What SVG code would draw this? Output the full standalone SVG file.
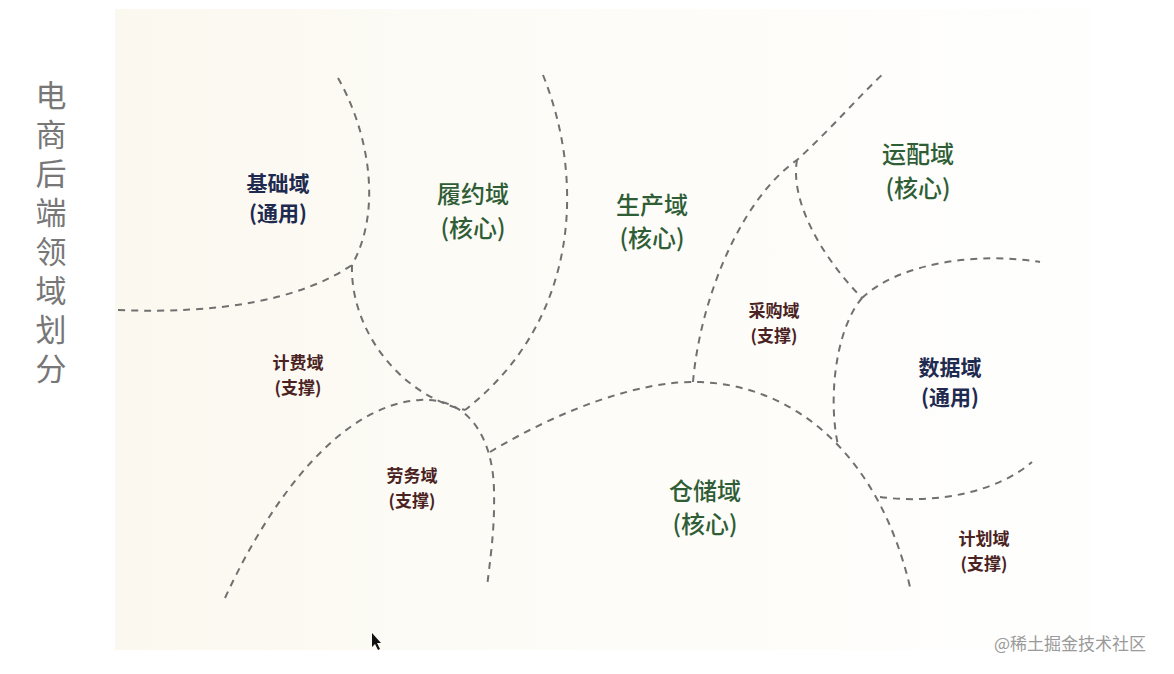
<svg xmlns="http://www.w3.org/2000/svg" width="1174" height="674" viewBox="0 0 1174 674">
<defs>
<linearGradient id="paper" x1="0" y1="0" x2="1" y2="0">
<stop offset="0" stop-color="#fbf8ef"/>
<stop offset="0.5" stop-color="#fdfcf8"/>
<stop offset="1" stop-color="#fefefd"/>
</linearGradient>
<style>
.b{fill:none;stroke:#707070;stroke-width:2;stroke-dasharray:7 6;stroke-linecap:butt}
.t{font-family:"Noto Sans CJK SC","Noto Sans",sans-serif;text-anchor:middle}
.core{fill:#2f5d36;font-size:24px;font-weight:500}
.gen{fill:#1f2a50;font-size:21px;font-weight:700}
.sup{fill:#4a2222;font-size:17px;font-weight:700}
.title{font-family:"Noto Sans CJK SC","Noto Sans",sans-serif;fill:#777;font-size:31px;font-weight:400}
.wm{font-family:"Noto Sans CJK SC","Noto Sans",sans-serif;fill:#9a9a9a;font-size:17px}
</style>
</defs>
<rect width="1174" height="674" fill="#ffffff"/>
<rect x="115" y="9" width="976" height="641" fill="url(#paper)"/>
<g id="title">
<text class="title" x="51" y="80" writing-mode="vertical-rl" letter-spacing="8">电商后端领域划分</text>
</g>
<g id="boundaries">
<path class="b" d="M338,78 C365,125 385,205 352,265"/>
<path class="b" d="M118,310 C220,314 300,300 352,265"/>
<path class="b" d="M352,265 C350,330 400,395 465,410"/>
<path class="b" d="M543,75 C585,180 580,320 465,410"/>
<path class="b" d="M225,598 C270,500 340,405 420,400 C470,397 493,440 494,490 C495,530 490,560 487,587"/>
<path class="b" d="M490,452 C560,410 640,380 700,382 C800,386 880,460 910,587"/>
<path class="b" d="M693,382 C700,300 740,200 797,160 C830,130 860,95 885,72"/>
<path class="b" d="M797,160 C790,200 820,255 862,298"/>
<path class="b" d="M862,298 C900,262 980,252 1040,262"/>
<path class="b" d="M862,298 C835,330 828,400 838,445"/>
<path class="b" d="M880,497 C940,505 1000,490 1032,462"/>
</g>
<g id="jichu"><text class="t gen" x="278" y="191">基础域<tspan x="278" dy="30">(通用)</tspan></text></g>
<g id="lvyue"><text class="t core" x="473" y="203">履约域<tspan x="473" dy="34">(核心)</tspan></text></g>
<g id="shengchan"><text class="t core" x="652" y="214">生产域<tspan x="652" dy="33">(核心)</tspan></text></g>
<g id="yunpei"><text class="t core" x="918" y="163">运配域<tspan x="918" dy="34">(核心)</tspan></text></g>
<g id="jifei"><text class="t sup" x="298" y="369">计费域<tspan x="298" dy="25">(支撑)</tspan></text></g>
<g id="laowu"><text class="t sup" x="412" y="482">劳务域<tspan x="412" dy="25">(支撑)</tspan></text></g>
<g id="caigou"><text class="t sup" x="774" y="317">采购域<tspan x="774" dy="25">(支撑)</tspan></text></g>
<g id="shuju"><text class="t gen" x="950" y="375">数据域<tspan x="950" dy="30">(通用)</tspan></text></g>
<g id="cangchu"><text class="t core" x="705" y="500">仓储域<tspan x="705" dy="33">(核心)</tspan></text></g>
<g id="jihua"><text class="t sup" x="984" y="545">计划域<tspan x="984" dy="25">(支撑)</tspan></text></g>
<polygon points="372,633 372,647 375,644 378,650 380,649 377,643 381,643" fill="#111"/>
<text class="wm" x="994" y="650">@稀土掘金技术社区</text>
</svg>
